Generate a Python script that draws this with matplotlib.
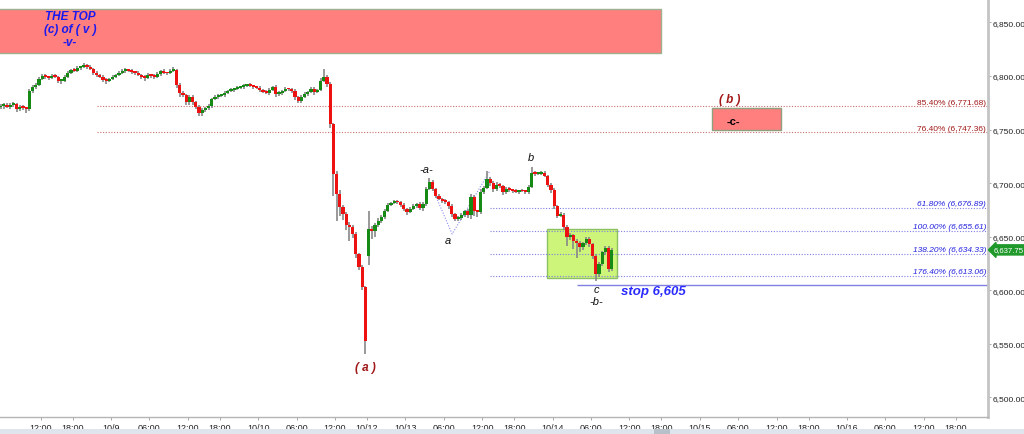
import matplotlib
matplotlib.use("Agg")
import matplotlib.pyplot as plt
import numpy as np
from matplotlib.patches import Rectangle
import matplotlib.transforms as mtransforms

plt.rcParams["font.family"] = ["Liberation Sans", "DejaVu Sans"]

# 30-minute bars, x axis counted in trading hours from 10/9 00:00
closes = [
    6772, 6773, 6771.25, 6773, 6774, 6769.25, 6771.25, 6770.25, 6769.25, 6786, 6789.75, 6791.75,
    6797.25, 6800, 6799.25, 6798.25, 6800, 6799.25, 6795.5, 6795.5, 6799.25, 6803, 6805.75, 6805,
    6807.5, 6808.5, 6810.25, 6808.5, 6806.5, 6803, 6801, 6799.25, 6796.25, 6795.5, 6797.25, 6799.25,
    6801, 6803, 6804.75, 6805.75, 6804.75, 6803.75, 6803, 6801, 6799.25, 6798.25, 6801, 6800,
    6799.25, 6802, 6804.75, 6803, 6802.5, 6804.75, 6805.75, 6791.75, 6784.25, 6782.25, 6775.75, 6780.5,
    6775.75, 6771.25, 6765.5, 6768.25, 6770.25, 6772, 6778.5, 6780.5, 6781.5, 6782.25, 6784.25, 6786,
    6787, 6788, 6789, 6789.75, 6790.75, 6791.75, 6790.75, 6789.75, 6789, 6787, 6785.25, 6784.25,
    6787, 6789.75, 6783.25, 6784.25, 6786, 6788, 6787.5, 6786, 6780.5, 6776.75, 6780.5, 6783.25,
    6785.25, 6788, 6785.25, 6787, 6795.5, 6799.25, 6792.5, 6755.25, 6708.5, 6690, 6677.75, 6671.25,
    6661, 6659.25, 6652.5, 6634, 6621.75, 6603.25, 6552.75, 6657.25, 6655.5, 6661, 6664.75, 6668.5,
    6674, 6679.75, 6681.5, 6682.5, 6682.25, 6679.75, 6676, 6673.25, 6676, 6678.75, 6680.5, 6677,
    6680.5, 6694.5, 6701.25, 6694.5, 6688, 6685.25, 6683.5, 6682.5, 6678.75, 6671.25, 6666.5, 6667.5,
    6670.25, 6674, 6670.25, 6687.25, 6674, 6673.25, 6691.75, 6695.5, 6704, 6700.25, 6694.5, 6698.25,
    6697.5, 6691.75, 6694.5, 6693.75, 6692.75, 6691.75, 6692.75, 6692.5, 6691.75, 6696.5, 6709.5, 6708.5,
    6708.75, 6709.5, 6706.75, 6698.25, 6693.75, 6678.75, 6669.5, 6670.25, 6659.25, 6649.75, 6651.75, 6646,
    6644.25, 6640.5, 6644.25, 6648, 6643.25, 6632, 6615, 6624.5, 6635.75, 6639.5, 6620, 6637.75,
]
wick_up = [
    1.5, 2, 1.5, 2, 1.5, 1, 2, 1.5, 1, 2, 1.5, 2,
    1.5, 2, 1.5, 1, 2, 1.5, 1, 1.5, 2, 1.5, 1, 2,
    1.5, 1, 2, 1, 1.5, 1, 1.5, 1, 1.5, 2, 1, 1.5,
    1, 1.5, 2, 1.5, 1, 1.5, 1, 1.5, 1, 1.5, 2, 1,
    1.5, 2, 1, 1.5, 1, 2, 2.5, 1, 1.5, 2, 1, 2,
    1.5, 1, 1.5, 2, 1, 1.5, 1, 1.5, 2, 1, 1.5, 1,
    1.5, 1, 1.5, 1, 1.5, 1, 1.5, 1, 1, 1.5, 1, 1.5,
    2, 1, 1.5, 2, 1, 1.5, 1, 1, 1.5, 1, 2, 1.5,
    1, 1.5, 2, 1, 2.5, 7, 2, 1.5, 1, 3, 4, 2,
    2, 3, 1.5, 2, 1, 1.5, 1, 17, 3, 2, 2.5, 1.5,
    2, 1.5, 1, 1.5, 2, 1, 1.5, 1, 2, 1.5, 1, 1.5,
    2, 1.5, 3.5, 1.5, 1, 1.5, 1, 2, 1, 1.5, 1, 2,
    1.5, 1, 2, 3, 1.5, 1, 2.5, 2, 7, 2, 1.5, 3,
    1.5, 1, 2, 1.5, 1, 1.5, 1, 1.5, 1, 2, 6, 2,
    1.5, 2, 1.5, 1, 1.5, 2, 1, 2.5, 1.5, 2, 1.5, 1,
    1.5, 2, 1, 2, 1.5, 1, 1.5, 2, 1, 1.5, 2, 1.5,
]
wick_dn = [
    2, 3, 1.5, 2, 2, 3, 1.5, 2, 3.5, 1.5, 2, 1.5,
    1.5, 1, 2, 1.5, 1, 1.5, 2, 2.5, 1.5, 1, 1.5, 1,
    1, 1.5, 1, 1.5, 1, 2, 1.5, 1, 2, 2.5, 1.5, 1,
    1.5, 1, 1, 1.5, 1, 1.5, 2, 1, 2, 2.5, 1, 1.5,
    2, 1, 1.5, 1, 1.5, 1, 1, 3, 4, 2, 3, 2.5,
    3, 2, 3, 2.5, 2, 1.5, 2, 1, 1.5, 1, 1.5, 1,
    1, 1.5, 1, 1, 1.5, 1, 1, 1.5, 1, 2, 1.5, 1,
    1.5, 1, 2.5, 1.5, 2, 1, 1.5, 2, 3, 2, 1.5, 1,
    2, 1.5, 2.5, 1.5, 1, 1.5, 3, 4, 20, 25, 8, 6,
    5, 13, 4, 4, 3, 3, 12.25, 8, 8, 6, 2, 1.5,
    1.5, 1, 1.5, 1, 1.5, 2, 1.5, 2.5, 1.5, 1, 1.5, 2,
    2.5, 1.5, 1, 2, 1.5, 1, 2, 1.5, 2.5, 3, 2, 1.5,
    1.5, 2, 3, 4, 5, 5, 2, 1.5, 1, 3, 3, 2,
    2, 2.5, 1.5, 2, 1.5, 1, 1.5, 1, 2, 1.5, 1, 1.5,
    1, 1.5, 1, 2, 2.5, 3, 2, 1.5, 3, 8, 3, 7,
    14, 5, 3, 2, 2.5, 3, 6.5, 3, 2, 2.5, 3, 2,
]
first_open = 6771.0
gap_bar = 115          # first bar of the Sunday session
gap_open = 6632.0

tick_hours = [-11, -6, 0, 6, 12, 17, 23, 29, 35, 40, 46, 52, 58, 63, 69, 75, 81, 86,
              92, 98, 104, 109, 115, 121, 127, 132]
tick_labels = ["12:00", "18:00", "10/9", "06:00", "12:00", "18:00", "10/10", "06:00", "12:00",
               "10/12", "10/13", "06:00", "12:00", "18:00", "10/14", "06:00", "12:00", "18:00",
               "10/15", "06:00", "12:00", "18:00", "10/16", "06:00", "12:00", "18:00"]

red_fibs = [("85.40%", 6771.68), ("76.40%", 6747.36)]
blue_fibs = [("61.80%", 6676.89), ("100.00%", 6655.61), ("138.20%", 6634.33), ("176.40%", 6613.06)]
stop_level = 6605
last_price = 6637.75
wave_x = [49.8, 53.3, 59.2]
wave_y = [6701.1, 6652.6, 6711.4]

# candles
closes = np.asarray(closes, dtype=float)
opens = np.concatenate([[first_open], closes[:-1]])
opens[gap_bar] = gap_open
highs = np.maximum(opens, closes) + np.asarray(wick_up)
lows = np.minimum(opens, closes) - np.asarray(wick_dn)
xs = -17.5 + 0.5 * (np.arange(len(closes)) + 0.5)
up = closes >= opens

fig = plt.figure(figsize=(10.24, 4.35), dpi=100)
ax = fig.add_axes([0.0, 17 / 435, 988 / 1024, 418 / 435])
ax.set_xlim(-17.34, 137.03)
ax.set_ylim(6481.8, 6871.9)

RED_TXT = "#a01818"
BLUE_TXT = "#2222dd"

# zones
ax.add_patch(Rectangle((-20, 6821.5), 105.9, 41.1, facecolor="#ff7f7f", edgecolor="#9fb08f", lw=1, zorder=1))
ax.add_patch(Rectangle((68.1, 6611.5), 11.0, 45.8, facecolor="#ccf57a", edgecolor="#8cc060", lw=1, zorder=1))
ax.add_patch(Rectangle((93.9, 6749.6), 10.8, 20.6, facecolor="#ff7f7f", edgecolor="#8fa07f", lw=1, zorder=1))

# fib levels
for pct, lvl in red_fibs:
    ax.hlines(lvl, -2.2, 137.03, colors="#c87070", linestyles=(0, (1, 1.5)), lw=0.8, zorder=2)
    ax.text(136.7, lvl + 0.8, f"{pct} ({lvl:,.2f})", ha="right", va="bottom", fontsize=6,
            color=RED_TXT, zorder=5)
for pct, lvl in blue_fibs:
    ax.hlines(lvl, 59.2, 137.03, colors="#7f7fe6", linestyles=(0, (1, 1.5)), lw=0.8, zorder=2)
    ax.text(136.7, lvl + 0.8, f"{pct} ({lvl:,.2f})", ha="right", va="bottom", fontsize=6,
            color=BLUE_TXT, style="italic", zorder=5)
ax.hlines(stop_level, 72.8, 137.03, colors="#8080e0", lw=1.0, zorder=2)

# wave connectors
ax.plot(wave_x, wave_y, color="#8a8aee", ls=(0, (1, 1.5)), lw=0.8, zorder=2)

# candles
ax.vlines(xs, lows, highs, colors="#888888", lw=1.2, zorder=3)
body_lo = np.minimum(opens, closes)
body_h = np.maximum(np.abs(closes - opens), 1.5)
ax.bar(xs[up], body_h[up], bottom=body_lo[up], width=0.5, color="#158a15", zorder=4)
ax.bar(xs[~up], body_h[~up], bottom=body_lo[~up], width=0.5, color="#ee1111", zorder=4)

# annotations
ax.text(-6.4, 6844, "THE TOP\n(c) of ( v )\n-v-", ha="center", va="center", fontsize=8.5,
        color="#1a1aee", fontweight="bold", style="italic", linespacing=1.1, zorder=5)
ax.text(39.8, 6528.5, "( a )", ha="center", va="center", fontsize=8.5, color=RED_TXT,
        fontweight="bold", style="italic")
ax.text(96.7, 6778.6, "( b )", ha="center", va="center", fontsize=8.5, color=RED_TXT,
        fontweight="bold", style="italic")
ax.text(97.2, 6758.1, "-c-", ha="center", va="center", fontsize=8, color="black", fontweight="bold", zorder=5)
for label, tx, ty in [("-a-", 49.2, 6713.3), ("a", 52.7, 6647.0), ("b", 65.6, 6724.5),
                      ("c", 75.9, 6601.3), ("-b-", 75.9, 6590.0)]:
    ax.text(tx, ty, label, ha="center", va="center", fontsize=8, color="#111111", style="italic")
ax.text(79.7, 6599.4, "stop 6,605", ha="left", va="center", fontsize=9.5, color="#2a2aff",
        fontweight="bold", style="italic")

# axes styling
for side in ("top", "left"):
    ax.spines[side].set_visible(False)
ax.spines["right"].set_color("#c4c4c4")
ax.spines["right"].set_linewidth(2)
ax.spines["bottom"].set_color("#b4b4b4")
ax.spines["bottom"].set_linewidth(1)
ax.yaxis.tick_right()
ax.set_yticks(np.arange(6500, 6851, 50))
ax.set_yticklabels([f"{v:,.2f}" for v in np.arange(6500, 6851, 50)])
ax.tick_params(axis="y", labelsize=6, length=2.5, width=0.6, color="#999999", pad=0.5, labelcolor="#222222")
ax.set_xticks(tick_hours)
ax.set_xticklabels(tick_labels)
ax.tick_params(axis="x", labelsize=6.5, length=2, width=0.6, color="#999999", pad=2, labelcolor="#222222")

# last price tag
trans = mtransforms.blended_transform_factory(ax.transAxes, ax.transData)
ax.text(1.006, last_price, f"{last_price:,.2f}", transform=trans, ha="left", va="center",
        fontsize=5.6, color="white", clip_on=False,
        bbox=dict(boxstyle="larrow,pad=0.2", facecolor="#1f9a2a", edgecolor="#1f9a2a"))

# bottom scroll strip
fig.patches.append(Rectangle((0, 0), 1, 5 / 435, transform=fig.transFigure, facecolor="#dfe5ec",
                             edgecolor="none", zorder=0))
fig.patches.append(Rectangle((654 / 1024, 0), 16 / 1024, 5 / 435, transform=fig.transFigure,
                             facecolor="#b8c0ca", edgecolor="none", zorder=1))

fig.savefig("out.png", dpi=100)
plt.close(fig)
